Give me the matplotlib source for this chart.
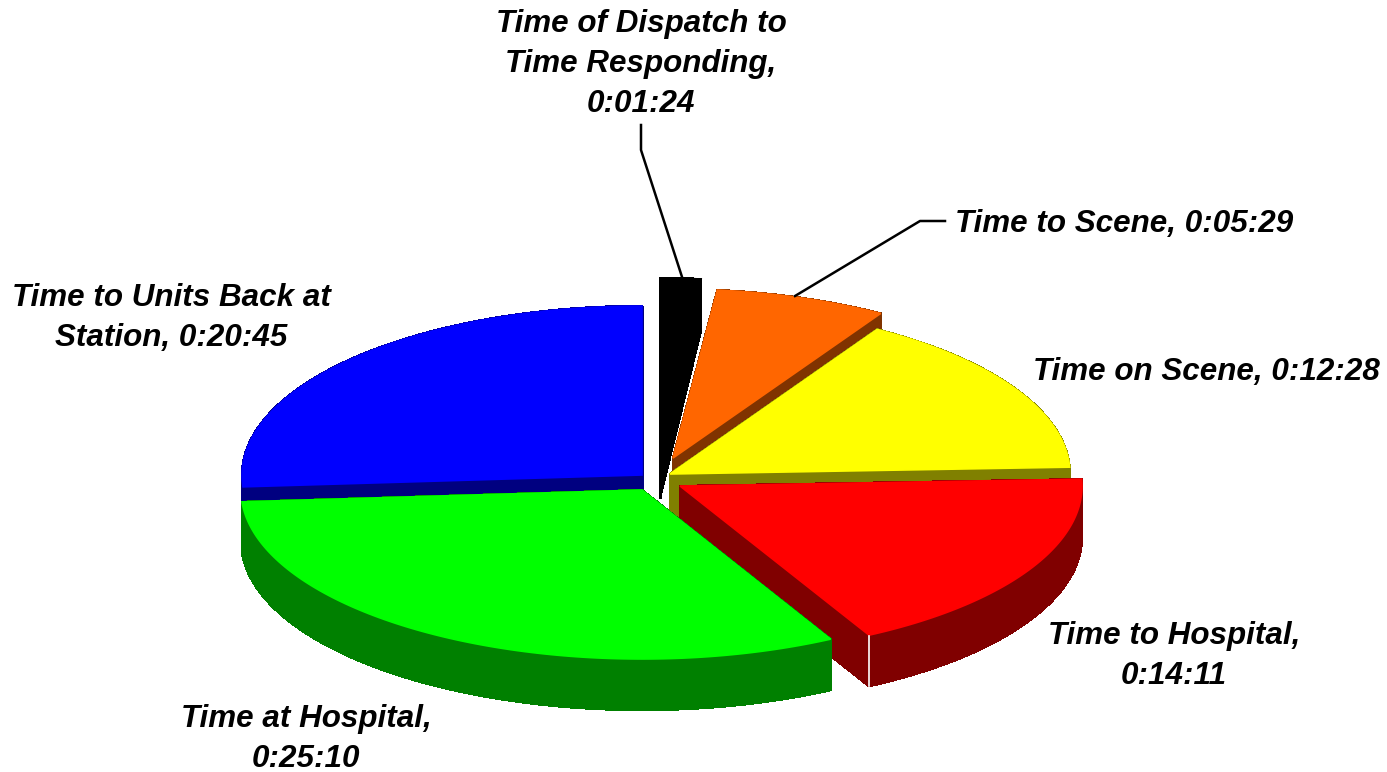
import numpy as np
import matplotlib as mpl
mpl.use('Agg')
import matplotlib.pyplot as plt

# slice data, clockwise from 12 o'clock
segments = ["Time of Dispatch to\nTime Responding,", "Time to Scene,", "Time on Scene,",
            "Time to Hospital,", "Time at Hospital,", "Time to Units Back at\nStation,"]
durations = ["0:01:24", "0:05:29", "0:12:28", "0:14:11", "0:25:10", "0:20:45"]
top_colors = ['#000000', '#ff6600', '#ffff00', '#ff0000', '#00ff00', '#0000ff']
side_colors = ['#000000', '#803300', '#808000', '#800000', '#008000', '#000080']

# exploded apex of every slice and its width, in pixels
apex_x = [660, 673, 670, 680, 642, 642]
apex_y = [447, 458, 474, 486, 490, 475]
radius_x = [372, 401, 400, 402, 401, 400]
radius_y = 169
depth = 51

# label placement: centre x, centre y, one line or two
label_x = [641, 1124, 1206, 1174, 306, 171]
label_y = [64, 224, 372, 656, 739, 318]
label_sep = ['\n', ' ', ' ', '\n', '\n', ' ']

# leader lines
leader_black_x = [641, 641, 683]
leader_black_y = [125, 150, 280]
leader_orange_x = [945, 920, 795]
leader_orange_y = [221, 221, 296]

draw_order = [5, 0, 1, 2, 3, 4]


def to_seconds(text):
    h, m, s = text.split(':')
    return int(h) * 3600 + int(m) * 60 + int(s)


def slice_outline(i, start, stop):
    t = np.linspace(start, stop, 120)
    x = apex_x[i] + radius_x[i] * np.sin(t)
    y = apex_y[i] - radius_y * np.cos(t)
    return np.r_[apex_x[i], x], np.r_[apex_y[i], y]


def draw_slice(ax, i, start, stop):
    x, y = slice_outline(i, start, stop)
    # extrude every edge of the outline downwards
    for k in range(len(x)):
        n = (k + 1) % len(x)
        ax.fill([x[k], x[n], x[n], x[k]],
                [y[k], y[n], y[n] + depth, y[k] + depth],
                facecolor=side_colors[i], edgecolor=side_colors[i], lw=1,
                antialiased=False)
    ax.fill(x, y, facecolor=top_colors[i], edgecolor=top_colors[i], lw=1.2)
    return x, y


fig = plt.figure(figsize=(13.87, 7.72), dpi=100)
ax = fig.add_axes([0, 0, 1, 1])
ax.set_xlim(0, 1387)
ax.set_ylim(772, 0)
ax.axis('off')

seconds = np.array([to_seconds(d) for d in durations])
edges = np.r_[0, np.cumsum(seconds)] / seconds.sum() * 2 * np.pi

for i in draw_order:
    x, y = draw_slice(ax, i, edges[i], edges[i + 1])
    if i == 3:
        # white seam at the front corner of the red slice
        ax.plot([x[-1], x[-1]], [y[-1] + 1, y[-1] + depth], color='white', lw=1.2)

ax.plot(leader_black_x, leader_black_y, color='black', lw=1.8)
ax.plot(leader_orange_x, leader_orange_y, color='black', lw=1.8)

for i in range(len(segments)):
    ax.text(label_x[i], label_y[i], segments[i] + label_sep[i] + durations[i],
            ha='center', va='center', family='Liberation Sans', weight='bold',
            style='italic', fontsize=22.6, linespacing=1.42, color='black')

plt.savefig('out.png', dpi=100)
